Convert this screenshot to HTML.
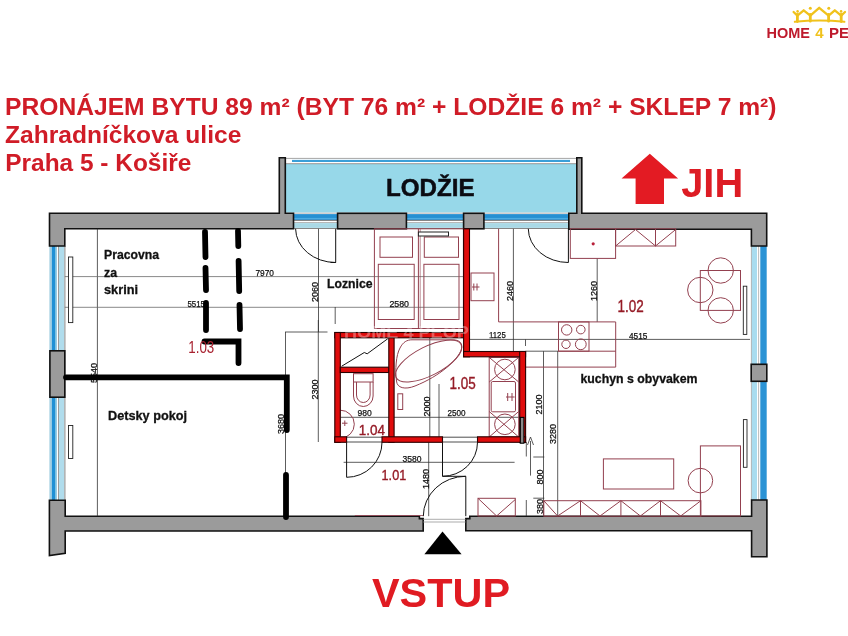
<!DOCTYPE html>
<html><head><meta charset="utf-8"><style>
html,body{margin:0;padding:0;background:#fff;width:848px;height:636px;overflow:hidden}
svg{display:block;will-change:transform}
text{font-family:"Liberation Sans",sans-serif}
.t{fill:#d01c27;font-weight:bold}
.w{fill:#9b9b9b;stroke:#111;stroke-width:1.6}
.rw{fill:#e00c0c;stroke:#2a0000;stroke-width:1.1}
.f{fill:none;stroke:#93404f;stroke-width:1}
.d{fill:none;stroke:#333;stroke-width:0.8}
.k{fill:none;stroke:#111;stroke-width:1}
.dt{fill:#111;font-size:9.5px;stroke:#111;stroke-width:0.25}
.rn{fill:#a01c28;font-size:15px}
.lb{fill:#111;font-size:12.3px;font-weight:bold;stroke:#111;stroke-width:0.3}
</style></head><body>
<svg width="848" height="636" viewBox="0 0 848 636">
<!-- LOGO -->
<g fill="none" stroke="#f0c21c" stroke-width="2.3" stroke-linejoin="round" stroke-linecap="round">
<path d="M794.8 21.8 Q819.5 19.2 844.4 21.8" stroke-width="2"/>
<path d="M793.6 12 L797.4 15.6 L803.7 10.3 L810.3 15.6 L819.2 7.8 L828.6 15.6 L834.8 10.3 L841.2 15.6 L845 12"/>
<path d="M797.4 14.5 V21.5 M810.3 14.5 V21.2 M828.6 14.5 V21.2 M841.2 14.5 V21.5" stroke-width="2.8"/>
</g>
<g fill="#f0c21c">
<circle cx="797.6" cy="11.4" r="1.3"/>
<circle cx="810.3" cy="8.3" r="1.5"/>
<circle cx="828.8" cy="8.3" r="1.5"/>
<circle cx="841.1" cy="11.4" r="1.3"/>
</g>
<text x="766.5" y="38.3" font-size="15" font-weight="bold" fill="#be1a2c" textLength="43.5" lengthAdjust="spacingAndGlyphs">HOME</text>
<text x="815.3" y="38.3" font-size="15" font-weight="bold" fill="#f0c21c">4</text>
<text x="829" y="38.3" font-size="15" font-weight="bold" fill="#be1a2c">PE</text>

<!-- TITLE -->
<text class="t" x="5" y="114.5" font-size="24.8" textLength="771.5" lengthAdjust="spacingAndGlyphs">PRONÁJEM BYTU 89 m² (BYT 76 m² + LODŽIE 6 m² + SKLEP 7 m²)</text>
<text class="t" x="5" y="142.7" font-size="24.8" textLength="236.3" lengthAdjust="spacingAndGlyphs">Zahradníčkova ulice</text>
<text class="t" x="5.3" y="171" font-size="24.8" textLength="186" lengthAdjust="spacingAndGlyphs">Praha 5 - Košiře</text>

<!-- LOGGIA -->
<rect x="285.4" y="158" width="291.4" height="54.5" fill="#97d8e9"/>
<rect x="285.4" y="158" width="291.4" height="6" fill="#fff"/>
<line x1="285.4" y1="158.4" x2="576.8" y2="158.4" stroke="#9b9b9b" stroke-width="0.9"/>
<rect x="292" y="159.9" width="278" height="2.1" fill="#3a9fd8"/>
<line x1="285.4" y1="163.7" x2="576.8" y2="163.7" stroke="#8a8a8a" stroke-width="0.9"/>
<text x="386" y="196.2" font-size="24.8" font-weight="bold" fill="#0b0b12" stroke="#0b0b12" stroke-width="0.5" textLength="88.5" lengthAdjust="spacingAndGlyphs">LODŽIE</text>

<!-- windows top (loggia bottom) -->
<g>
<rect x="293.5" y="213.3" width="275.3" height="15.5" fill="#fff"/>
<line x1="293.5" y1="213.2" x2="568.8" y2="213.2" stroke="#aaa" stroke-width="0.8"/>
<rect x="293.5" y="214.1" width="275.3" height="5.8" fill="#2590d2"/>
<line x1="293.5" y1="218.4" x2="568.8" y2="218.4" stroke="#5ab8ea" stroke-width="0.8"/>
<line x1="293.5" y1="220.4" x2="568.8" y2="220.4" stroke="#555" stroke-width="0.8"/>
<line x1="293.5" y1="222.6" x2="568.8" y2="222.6" stroke="#999" stroke-width="0.8"/>
<rect x="293.5" y="223.1" width="275.3" height="4.8" fill="#aad9e6"/>
<line x1="293.5" y1="228.5" x2="568.8" y2="228.5" stroke="#777" stroke-width="0.9"/>
</g>
<!-- windows left -->
<g>
<rect x="49.4" y="246" width="15.5" height="254.3" fill="#fff"/>
<rect x="49.4" y="246" width="2.4" height="254.3" fill="#a3cfe2"/>
<rect x="51.8" y="246" width="3.2" height="254.3" fill="#2090d5"/>
<rect x="55" y="246" width="1.8" height="254.3" fill="#7cc0e0"/>
<line x1="58.5" y1="246" x2="58.5" y2="500" stroke="#999" stroke-width="1"/>
<rect x="59" y="246" width="5.3" height="254.3" fill="#b0dcec"/>
<line x1="64.9" y1="246" x2="64.9" y2="500" stroke="#999" stroke-width="1.2"/>
</g>
<!-- windows right -->
<g>
<rect x="751.4" y="246" width="15.5" height="254" fill="#fff"/>
<rect x="751.6" y="246" width="5.4" height="254" fill="#a9dcef"/>
<line x1="758.6" y1="246" x2="758.6" y2="500" stroke="#aaa" stroke-width="0.8"/>
<rect x="760.3" y="246" width="6.4" height="254" fill="#2b93d5"/>
<line x1="751.4" y1="246" x2="751.4" y2="500" stroke="#999" stroke-width="0.7"/>
</g>

<!-- WALLS -->
<path class="w" d="M49.5 213.3 H279.3 V157.8 H285.3 V213.3 H293.5 V228.8 H64.8 V246 H49.5 Z"/>
<rect class="w" x="337.6" y="213.3" width="68.8" height="15.5"/>
<rect class="w" x="463.6" y="213.3" width="20.3" height="15.5"/>
<path class="w" d="M568.8 213.3 H576.8 V157.8 H581.8 V213.3 H766.7 V246 H751.4 V229.2 H568.8 Z"/>
<rect class="w" x="49.9" y="350.8" width="14.9" height="46.4"/>
<rect class="w" x="751.2" y="364.3" width="15.6" height="17"/>
<path class="w" d="M49.4 500.3 H65.2 V516.2 H419.4 V518.6 H423.2 V531 H65.2 V553.4 L49.4 555.5 Z"/>
<path class="w" d="M469.8 516.2 H751.6 V500 H766.9 V556.7 H751.6 V530.8 H465.8 V518.6 H469.8 Z"/>

<!-- DIMENSION LINES -->
<g class="d">
<line x1="97.4" y1="228.8" x2="97.4" y2="516.2"/>
<line x1="64.8" y1="276.6" x2="463.6" y2="276.6" stroke="#6a6a6a"/>
<line x1="64.8" y1="307.3" x2="463.6" y2="307.3" stroke="#6a6a6a"/>
<line x1="318.5" y1="228.8" x2="318.5" y2="332"/>
<line x1="285" y1="332" x2="327.5" y2="332"/>
<line x1="285.5" y1="332" x2="285.5" y2="518"/>
<line x1="318.3" y1="320" x2="318.3" y2="442"/>
<line x1="335.2" y1="307" x2="335.2" y2="324"/>
<line x1="513.4" y1="228.8" x2="513.4" y2="351.2"/>
<line x1="597.2" y1="258.4" x2="597.2" y2="321.9"/>
<line x1="469" y1="339.4" x2="750" y2="339.4"/>
<line x1="525.5" y1="339.4" x2="525.5" y2="346"/>
<line x1="525.5" y1="351.2" x2="558.4" y2="351.2"/>
<line x1="543.5" y1="351.2" x2="543.5" y2="516.2"/>
<line x1="557.7" y1="351.2" x2="557.7" y2="516.2"/>
<line x1="533.3" y1="457" x2="544.3" y2="457"/>
<line x1="533.3" y1="498.2" x2="544.3" y2="498.2"/>
<line x1="340.3" y1="417.3" x2="525" y2="417.3"/>
<line x1="429.8" y1="337.8" x2="429.8" y2="437"/>
<line x1="439" y1="384" x2="439" y2="437"/>
<line x1="343.6" y1="462.3" x2="514.6" y2="462.3"/>
<line x1="428.7" y1="442.3" x2="428.7" y2="516.2"/>
<line x1="526.3" y1="442" x2="526.3" y2="456.5"/>
<line x1="526.3" y1="500" x2="526.3" y2="516"/>
<line x1="530.5" y1="441" x2="530.5" y2="475.6"/>
<path d="M527.5 445 L530.5 437 L533.5 445"/>
</g>
<g class="dt">
<text x="255.5" y="276" textLength="18.5" lengthAdjust="spacingAndGlyphs">7970</text>
<text x="187.5" y="306.5" textLength="17.5" lengthAdjust="spacingAndGlyphs">5515</text>
<text x="389.4" y="307" textLength="19.6" lengthAdjust="spacingAndGlyphs">2580</text>
<text x="489" y="338" textLength="16.7" lengthAdjust="spacingAndGlyphs">1125</text>
<text x="629" y="339" textLength="18.4" lengthAdjust="spacingAndGlyphs">4515</text>
<text x="357.4" y="416.3" textLength="14.3" lengthAdjust="spacingAndGlyphs">980</text>
<text x="447.5" y="416.4" textLength="18.1" lengthAdjust="spacingAndGlyphs">2500</text>
<text x="402.4" y="461.8" textLength="19" lengthAdjust="spacingAndGlyphs">3580</text>
<text transform="translate(318.3,302) rotate(-90)" textLength="20" lengthAdjust="spacingAndGlyphs">2060</text>
<text transform="translate(318,399.6) rotate(-90)" textLength="20" lengthAdjust="spacingAndGlyphs">2300</text>
<text transform="translate(284.2,434) rotate(-90)" textLength="20" lengthAdjust="spacingAndGlyphs">3680</text>
<text transform="translate(97,383) rotate(-90)" textLength="20" lengthAdjust="spacingAndGlyphs">5540</text>
<text transform="translate(513.2,301) rotate(-90)" textLength="20" lengthAdjust="spacingAndGlyphs">2460</text>
<text transform="translate(597,301) rotate(-90)" textLength="20" lengthAdjust="spacingAndGlyphs">1260</text>
<text transform="translate(430,416.5) rotate(-90)" textLength="20" lengthAdjust="spacingAndGlyphs">2000</text>
<text transform="translate(542.3,414.5) rotate(-90)" textLength="20" lengthAdjust="spacingAndGlyphs">2100</text>
<text transform="translate(556.3,444) rotate(-90)" textLength="20" lengthAdjust="spacingAndGlyphs">3280</text>
<text transform="translate(429,489) rotate(-90)" textLength="20" lengthAdjust="spacingAndGlyphs">1480</text>
<text transform="translate(543,484.5) rotate(-90)" textLength="15" lengthAdjust="spacingAndGlyphs">800</text>
<text transform="translate(543,514) rotate(-90)" textLength="15" lengthAdjust="spacingAndGlyphs">380</text>
</g>

<!-- FURNITURE -->
<g class="f">
<!-- bed -->
<rect x="374.4" y="228.8" width="89" height="99.7"/>
<line x1="418.4" y1="228.8" x2="418.4" y2="328.5"/>
<line x1="420.2" y1="228.8" x2="420.2" y2="328.5" stroke-width="0.6"/>
<rect x="380" y="237" width="32.5" height="20.3"/>
<rect x="424.3" y="237" width="34.2" height="20.3"/>
<rect x="378.3" y="264.3" width="35.9" height="55.2"/>
<rect x="423.9" y="264.3" width="35.1" height="55.2"/>
<rect x="471" y="273" width="23" height="27.7"/>
<path d="M472 287 H479.5 M473.8 283.5 V290.5 M477 283.5 V290.5"/>
<!-- kitchen -->
<line x1="498.6" y1="228.8" x2="498.6" y2="321.9"/>
<line x1="498.6" y1="321.9" x2="615.6" y2="321.9"/>
<rect x="570.3" y="228.8" width="45.3" height="29.6"/>
<circle cx="593.2" cy="243.8" r="1.6" fill="#b8203a" stroke="none"/>
<rect x="615.6" y="228.8" width="60.1" height="17.2"/>
<path d="M615.6 246 L635.5 229.5 L655.5 246 L675.7 229.5 M655.5 229 V246"/>
<rect x="558.5" y="321.9" width="30.5" height="29.3"/>
<circle cx="566.7" cy="329.9" r="5.2"/>
<circle cx="580.8" cy="329.6" r="4.3"/>
<circle cx="566" cy="344.3" r="4.2"/>
<circle cx="580.8" cy="344.3" r="5.4"/>
<line x1="525.5" y1="367.1" x2="615.7" y2="367.1"/>
<line x1="558.4" y1="351.2" x2="615.7" y2="351.2"/>
<line x1="615.7" y1="321.9" x2="615.7" y2="367.1"/>
<line x1="525.5" y1="356.5" x2="525.5" y2="367.1"/>
<rect x="700.3" y="270.5" width="40.2" height="39.9"/>
<circle cx="720.7" cy="270.5" r="12.7"/>
<circle cx="700.3" cy="290" r="12.7"/>
<circle cx="720.7" cy="310.4" r="12.7"/>
<!-- living -->
<rect x="603.4" y="458.9" width="70.3" height="30.1"/>
<rect x="700.4" y="445.9" width="40.1" height="70.1"/>
<circle cx="700.4" cy="480.6" r="12.3"/>
<rect x="543.8" y="500.7" width="157.1" height="15.5"/>
<path d="M580.5 500.7 V516 M620.9 500.7 V516 M660.5 500.7 V516 M543.8 500.7 L557.6 516 L580.5 500.7 L600 516 L620.9 500.7 L640.4 516 L660.5 500.7 L680.7 516 L700.9 500.7"/>
<!-- hall shoe cabinets -->
<rect x="478" y="498.3" width="37.3" height="17.7"/>
<path d="M478 498.3 L496.6 516 L515.3 499.5"/>
<line x1="354.8" y1="515.5" x2="423" y2="515.5" stroke-width="0.8"/>
<!-- bath -->
<path d="M396.5 381 C395 370, 396 355, 400 348 C403 342, 407 339.8, 412 339.8 L453 339.8 C459 339.8, 463 343, 461.5 349 C458 360, 440 376, 415 386 C405 390, 397 388, 396.5 381 Z"/>
<ellipse cx="428.6" cy="361" rx="36.5" ry="14.5" transform="rotate(-27 428.6 361)"/>
<rect x="397.8" y="393.8" width="4.9" height="15.7"/>
<rect x="489.2" y="357.4" width="29.5" height="79.6"/>
<circle cx="504.9" cy="369.5" r="10.3"/>
<path d="M489.2 357.4 L518.7 382 M518.7 357.4 L489.2 382"/>
<circle cx="504.9" cy="424.3" r="10.3"/>
<path d="M489.2 411.5 L518.7 437 M518.7 411.5 L489.2 437"/>
<rect x="491.2" y="381.5" width="24.3" height="30.3" fill="#fff" rx="1.5"/>
<path d="M507.7 393 V401 M512 393 V401 M506 397 H514.6"/>
<!-- wc -->
<rect x="353.5" y="373.7" width="19.6" height="8.3"/>
<path d="M353.5 382 V396 A9.8 10.5 0 0 0 373.1 396 V382"/>
<path d="M356.5 382 V395 A6.8 7.5 0 0 0 370.1 395 V382"/>
<path d="M340.3 410.2 A14 14 0 0 1 340.3 438.2"/>
<path d="M342 423.2 H347.5 M344.8 420.5 V426"/>
</g>

<!-- radiators -->
<g fill="#fff" stroke="#222" stroke-width="0.9">
<rect x="68.5" y="257" width="4.3" height="65.6"/>
<rect x="68.5" y="425.5" width="4.3" height="33"/>
<rect x="743.3" y="286.2" width="3.5" height="48.2"/>
<rect x="743.4" y="419.6" width="3.6" height="47.7"/>
<rect x="418.4" y="232" width="30.1" height="4" stroke-width="1"/>
</g>

<!-- DOORS (black thin) -->
<g class="k">
<path d="M295.6 228.8 A40 34 0 0 0 335.7 262.5 V228.8"/>
<path d="M330.5 262.5 H335.7"/>
<path d="M528.3 228.8 A40 34 0 0 0 568.4 262.5 V228.8"/>
<path d="M382 442.3 A35.4 35 0 0 1 346.6 477.3 V442.3"/>
<path d="M477.5 442.3 A35 34 0 0 1 442.5 476.3 V442.3"/>
<path d="M442.5 476.3 H465.8 V516.2"/>
<path d="M465.8 476.3 A42.5 40 0 0 0 423.3 516.2"/>
<path d="M341.7 366.2 L364.3 352.5 L367.2 353.8 L387.8 338.7"/>
<path d="M423 519.3 H465.8 M423 522 H465.8" stroke="#888" stroke-width="0.7"/>
<path d="M346.6 437.2 H382 M346.6 442 H382 M442.5 437.2 H477.5 M442.5 442 H477.5" stroke="#222" stroke-width="0.8"/>
</g>

<!-- RED WALLS -->
<g class="rw">
<rect x="334.8" y="332.5" width="134.7" height="5.3"/>
<rect x="334.8" y="332.5" width="5.5" height="109.8"/>
<rect x="340.3" y="367.2" width="48.5" height="5.3"/>
<rect x="388.8" y="337.8" width="5.3" height="104.5"/>
<rect x="463.6" y="228.8" width="5.9" height="128"/>
<rect x="463.6" y="351.5" width="62" height="5.3"/>
<rect x="519.7" y="351.5" width="5.9" height="91"/>
<rect x="334.8" y="436.8" width="11.8" height="5.5"/>
<rect x="382" y="436.8" width="60.5" height="5.5"/>
<rect x="477.5" y="436.8" width="48.1" height="5.5"/>
</g>
<rect x="520.3" y="417.4" width="3.6" height="25.8" fill="#8a8a8a" stroke="#000" stroke-width="1.1"/>
<text x="344" y="338.3" font-size="16.5" font-weight="bold" fill="#fff" fill-opacity="0.32" textLength="148" lengthAdjust="spacingAndGlyphs">HOME 4 PEOPLE</text>

<!-- THICK BLACK hand lines -->
<g stroke="#000" stroke-width="5.8" stroke-linecap="round" fill="none">
<line x1="205" y1="232" x2="205.5" y2="257"/>
<line x1="205.5" y1="268" x2="206" y2="290"/>
<line x1="206" y1="303" x2="206" y2="330"/>
<line x1="238" y1="231" x2="238.3" y2="246"/>
<line x1="238.6" y1="261" x2="239.2" y2="291"/>
<line x1="239.5" y1="305" x2="240" y2="329"/>
<path d="M204.5 341.5 H238.5 V363"/>
<path d="M66 377.3 H286.8 V430"/>
<line x1="286" y1="475" x2="286" y2="517"/>
</g>

<!-- ROOM LABELS -->
<g class="lb">
<text x="104" y="259" textLength="55" lengthAdjust="spacingAndGlyphs">Pracovna</text>
<text x="104" y="276.6">za</text>
<text x="104" y="294.3" textLength="34" lengthAdjust="spacingAndGlyphs">skrini</text>
<text x="108" y="419.6" textLength="79" lengthAdjust="spacingAndGlyphs">Detsky pokoj</text>
<text x="327" y="288.4" textLength="45.5" lengthAdjust="spacingAndGlyphs">Loznice</text>
<text x="580.5" y="383" textLength="117" lengthAdjust="spacingAndGlyphs">kuchyn s obyvakem</text>
</g>
<g class="rn">
<text x="188.3" y="352.8" font-size="16.2" fill="#a82230" textLength="26" lengthAdjust="spacingAndGlyphs">1.03</text>
<g stroke="#951b26" stroke-width="0.4" fill="#951b26">
<text x="617.6" y="312.3" font-size="17.3" textLength="26.2" lengthAdjust="spacingAndGlyphs">1.02</text>
<text x="358.8" y="434.9" font-size="15.2" textLength="26.2" lengthAdjust="spacingAndGlyphs">1.04</text>
<text x="449.5" y="388.9" font-size="16.6" textLength="26.2" lengthAdjust="spacingAndGlyphs">1.05</text>
<text x="381.6" y="479.7" font-size="15.2" textLength="24.6" lengthAdjust="spacingAndGlyphs">1.01</text>
</g>
</g>

<!-- JIH arrow -->
<path d="M649.8 153.8 L678.1 178.6 H664 V203.9 H635.6 V178.6 H621.5 Z" fill="#e31b23"/>
<text x="681.2" y="197.4" font-size="41.5" font-weight="bold" fill="#dd1c24" textLength="62" lengthAdjust="spacingAndGlyphs">JIH</text>

<!-- VSTUP -->
<path d="M442.5 531.5 L461.6 554.2 H424.4 Z" fill="#000"/>
<text x="372" y="606.8" font-size="41" font-weight="bold" fill="#e01b22" textLength="138" lengthAdjust="spacingAndGlyphs">VSTUP</text>

</svg>
</body></html>
